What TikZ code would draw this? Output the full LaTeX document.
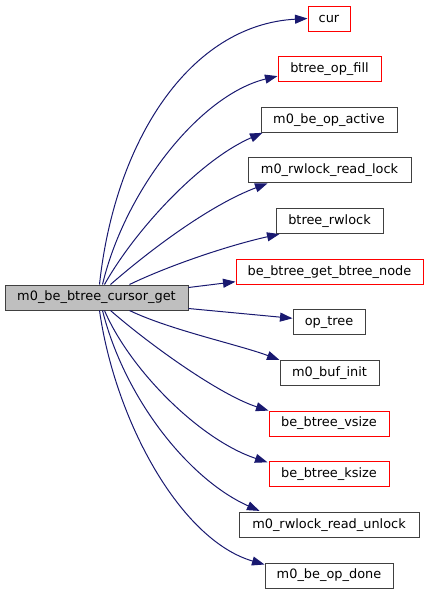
\documentclass[tikz,border=0pt]{standalone}
\usepackage{fontspec}
\setmainfont{DejaVu Sans}
\usetikzlibrary{arrows.meta}
\definecolor{edgeblue}{HTML}{191970}
\definecolor{boxgray}{HTML}{404040}
\definecolor{mainfill}{HTML}{BFBFBF}
\tikzset{
  fn/.style={draw=boxgray, line width=1pt, rectangle, inner sep=0pt, minimum height=25pt, font=\fontsize{12.9}{15}\selectfont, text=black},
  fnred/.style={fn, draw=red},
  mainfn/.style={fn, fill=mainfill},
  call/.style={draw=edgeblue, line width=1pt, -{Triangle[length=12.5pt,width=9pt]}},
}
\begin{document}
\begin{tikzpicture}[x=1pt,y=-1pt]
\useasboundingbox (0,0) rectangle (428,595);
\node[mainfn, minimum width=183pt] (main) at (96.5,297.5) {m0\_be\_btree\_cursor\_get};
\node[fnred, minimum width=42pt] (cur) at (329,18.5) {cur};
\node[fnred, minimum width=103pt] (fill) at (329.5,69.1) {btree\_op\_fill};
\node[fn, minimum width=136pt] (active) at (329,119.8) {m0\_be\_op\_active};
\node[fn, minimum width=163pt] (rlock) at (329.5,170.4) {m0\_rwlock\_read\_lock};
\node[fn, minimum width=107pt] (brw) at (329.5,221.1) {btree\_rwlock};
\node[fnred, minimum width=187pt] (getnode) at (329.5,271.7) {be\_btree\_get\_btree\_node};
\node[fn, minimum width=72pt] (optree) at (329,322.3) {op\_tree};
\node[fn, minimum width=99pt] (bufinit) at (329.5,373.0) {m0\_buf\_init};
\node[fnred, minimum width=120pt] (vsize) at (329,423.6) {be\_btree\_vsize};
\node[fnred, minimum width=120pt] (ksize) at (329,474.3) {be\_btree\_ksize};
\node[fn, minimum width=180pt] (unlock) at (329,524.9) {m0\_rwlock\_read\_unlock};
\node[fn, minimum width=128pt] (done) at (329,575.5) {m0\_be\_op\_done};

% upper fan
\draw[call] ([xshift=95pt]main.north west) .. controls (115,140) and (190,25) .. (cur.west);
\draw[call] ([xshift=98pt]main.north west) .. controls (125,190) and (200,95) .. ([yshift=-7pt]fill.west);
\draw[call] ([xshift=100pt]main.north west) .. controls (135,230) and (200,160) .. ([xshift=2pt]active.south west);
\draw[call] ([xshift=106pt]main.north west) .. controls (150,250) and (210,205) .. ([xshift=20pt]rlock.south west);
\draw[call] ([xshift=125pt]main.north west) .. controls (170,265) and (230,245) .. ([xshift=4pt]brw.south west);
% straight ones
\draw[call] ([yshift=10pt]main.east) -- ([yshift=-10pt]getnode.west);
\draw[call] ([yshift=-11pt]main.east) -- ([yshift=4pt]optree.west);
% lower fan
\draw[call] ([xshift=125pt]main.south west) .. controls (170,330) and (240,345) .. (bufinit.north west);
\draw[call] ([xshift=106pt]main.south west) .. controls (150,345) and (220,395) .. (vsize.north west);
\draw[call] ([xshift=100pt]main.south west) .. controls (130,370) and (200,440) .. ([xshift=-1pt,yshift=-1pt]ksize.north west);
\draw[call] ([xshift=98pt]main.south west) .. controls (125,400) and (190,480) .. ([xshift=21pt,yshift=1pt]unlock.north west);
\draw[call] ([xshift=95pt]main.south west) .. controls (115,420) and (180,540) .. ([yshift=-2pt]done.north west);
\end{tikzpicture}
\end{document}
